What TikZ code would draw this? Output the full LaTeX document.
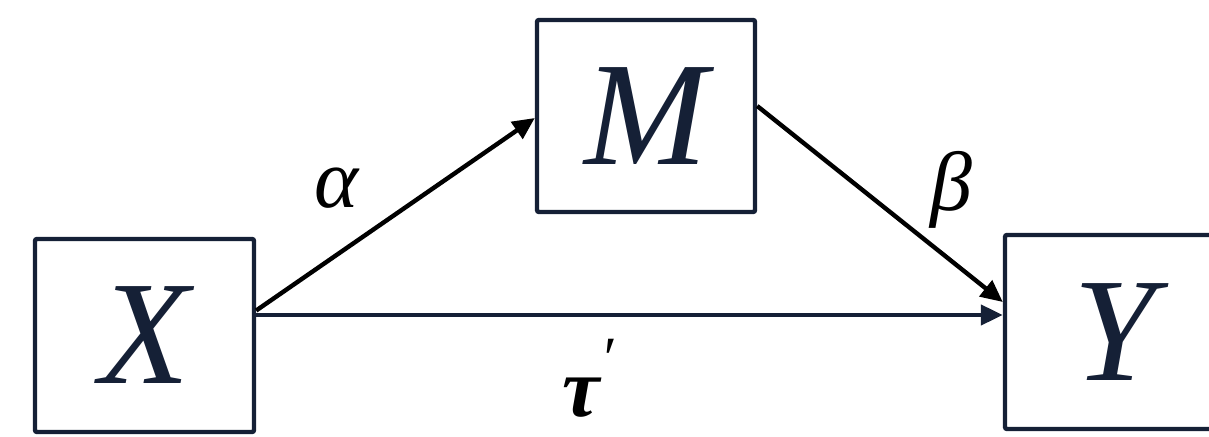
\documentclass[tikz,border=0pt]{standalone}
\usepackage{fontspec}
\setmainfont{Liberation Serif}
\usetikzlibrary{arrows.meta}
\definecolor{navy}{HTML}{152036}
\tikzset{
  varbox/.style={draw=navy, line width=2.2pt, rounded corners=1pt, fill=white, text=navy,
    inner sep=0pt, font=\fontsize{74}{80}\selectfont\itshape},
  conn/.style={line width=2.2pt, -{Triangle[length=11pt,width=10pt]}},
  lbl/.style={font=\fontsize{42}{48}\selectfont\itshape, text=black, inner sep=0pt}
}
\begin{document}
\begin{tikzpicture}[x=0.5pt,y=-0.5pt]
\useasboundingbox (0,0) rectangle (1209,437);
\clip (0,0) rectangle (1209,437);
\node[varbox, minimum width=109.5pt, minimum height=96.5pt] (X) at (144.5,335.5) {X};
\node[varbox, minimum width=109pt, minimum height=96pt] (M) at (646,116) {M};
\node[varbox, minimum width=110pt, minimum height=97pt] (Y) at (1115,332) {Y};
\draw[conn, black] ([yshift=12.5pt]X.east) -- ([yshift=-1pt]M.west);
\draw[conn, black] ([yshift=5pt]M.east) -- ([yshift=15pt]Y.west);
\draw[conn, navy] ([yshift=10.25pt]X.east) -- ([yshift=8.5pt]Y.west);
\node[lbl] (a) at (337,188) {α};
\node[lbl] (b) at (951,190) {β};
\node[lbl] (t) at (588,378) {\bfseries τ\raisebox{0.45em}{\mdseries\fontsize{30}{30}\selectfont ′}};
\end{tikzpicture}
\end{document}
